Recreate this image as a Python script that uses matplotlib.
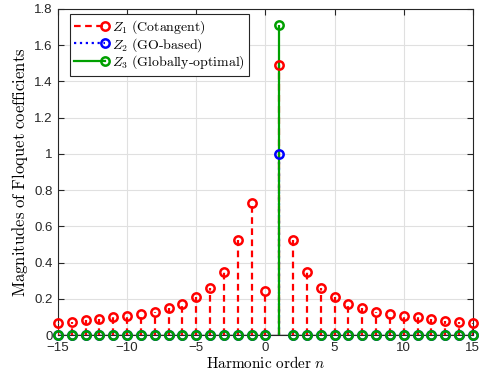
import numpy as np
import matplotlib
matplotlib.use("Agg")
import matplotlib.pyplot as plt
from matplotlib.lines import Line2D

plt.rcParams['font.family'] = ['Liberation Sans', 'DejaVu Sans']
plt.rcParams['mathtext.fontset'] = 'cm'

# harmonic orders
n = np.arange(-15, 16)

# Z1 (Cotangent) magnitudes
z1 = [0.068, 0.073, 0.081, 0.088, 0.097, 0.106, 0.116, 0.129, 0.149, 0.173,
      0.209, 0.262, 0.348, 0.523, 0.731, 0.241, 1.49, 0.523, 0.348, 0.262,
      0.209, 0.173, 0.149, 0.129, 0.116, 0.106, 0.097, 0.088, 0.080, 0.073, 0.068]
# Z2 (GO-based) and Z3 (Globally-optimal): only n = 1 nonzero
z2 = [1.0 if k == 1 else 0.0 for k in n]
z3 = [1.71 if k == 1 else 0.0 for k in n]

labels = [r'$Z_1\ \mathrm{(Cotangent)}$', r'$Z_2\ \mathrm{(GO\text{-}based)}$',
          r'$Z_3\ \mathrm{(Globally\text{-}optimal)}$']
colors = ['#ff0000', '#0000ff', '#00a000']
styles = [(0, (3, 2)), ':', '-']

fig = plt.figure(figsize=(4.87, 3.84), dpi=100)
ax = fig.add_axes([0.119, 0.1276, 0.852, 0.849])

handles = []
for y, c, ls, lab in zip([z1, z2, z3], colors, styles, labels):
    ax.vlines(n, 0, y, colors=c, linestyles=ls, linewidth=1.6, zorder=3)
    ax.plot(n, y, 'o', mfc='none', mec=c, mew=1.8, ms=6, clip_on=False, zorder=4)
    handles.append(Line2D([], [], color=c, linestyle=ls, linewidth=1.6, marker='o',
                          mfc='none', mec=c, mew=1.8, ms=6))

ax.axhline(0, color='black', linewidth=1.0, zorder=2)

ax.set_xlim(-15, 15)
ax.set_ylim(0, 1.8)
ax.set_xticks(np.arange(-15, 16, 5))
ax.set_yticks(np.arange(0, 1.81, 0.2))
ax.set_yticklabels(['0', '0.2', '0.4', '0.6', '0.8', '1', '1.2', '1.4', '1.6', '1.8'])
ax.tick_params(direction='in', top=True, right=True, labelsize=9.5, length=4,
               width=0.8, colors='#262626')
ax.tick_params(axis='x', pad=5)
ax.tick_params(axis='y', pad=4)
for s in ax.spines.values():
    s.set_color('#262626')
    s.set_linewidth(0.8)
ax.grid(True, color='#e0e0e0', linewidth=0.8)
ax.set_axisbelow(True)

ax.set_xlabel(r'$\mathrm{Harmonic\ order}\ n$', fontsize=11, labelpad=1)
ax.set_ylabel(r'$\mathrm{Magnitudes\ of\ Floquet\ coefficients}$', fontsize=12, labelpad=3)

leg = ax.legend(handles, labels, loc='upper left', fontsize=10, numpoints=1,
                fancybox=False, edgecolor='#262626', framealpha=1,
                borderaxespad=0, handlelength=2.2, handletextpad=0.5,
                labelspacing=0.0, borderpad=0.3, bbox_to_anchor=(0.029, 0.985))
leg.get_frame().set_linewidth(0.8)
for ln in leg.get_lines():
    ln.set_markevery([2])

fig.savefig('out.png', dpi=100)
